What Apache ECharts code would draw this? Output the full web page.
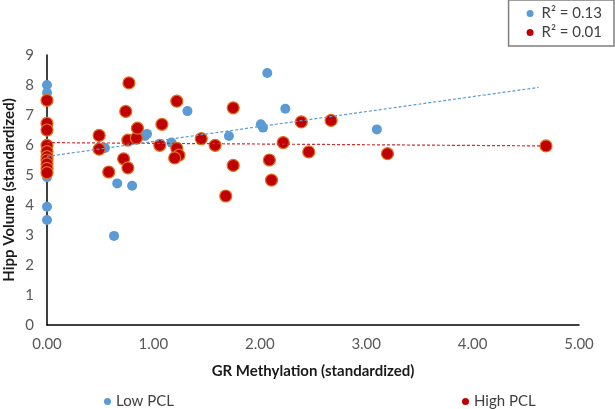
<!DOCTYPE html>
<html>
<head>
<meta charset="utf-8">
<script src="https://cdn.jsdelivr.net/npm/echarts@6/dist/echarts.min.js"></script>
<style>
  html, body { margin: 0; padding: 0; background: #fff; }
  #chart { width: 615px; height: 409px; }
</style>
</head>
<body>
<div id="chart"></div>
<script>
// GR methylation (x) vs hippocampal volume (y), both standardized
var lowPcl = [
    [0, 8.0], [0, 7.74], [0, 4.93], [0, 3.94], [0, 3.5],
    [0.545, 5.9], [0.66, 4.72], [0.8, 4.64], [0.63, 2.97],
    [0.92, 6.3], [0.94, 6.37], [1.17, 6.08], [1.32, 7.13],
    [1.71, 6.3], [2.07, 8.4], [2.01, 6.69], [2.03, 6.58],
    [2.24, 7.21], [3.1, 6.52]
];
var highPcl = [
    [0, 7.49], [0, 6.72], [0, 6.5], [0, 5.99], [0, 5.78], [0, 5.61],
    [0, 5.5], [0, 5.37], [0, 5.22], [0, 5.08],
    [0.49, 6.32], [0.49, 5.86], [0.58, 5.1], [0.77, 8.07], [0.74, 7.12],
    [0.72, 5.54], [0.76, 5.24], [0.76, 6.16], [0.84, 6.23], [0.85, 6.56],
    [1.08, 6.69], [1.06, 5.99], [1.22, 7.46], [1.22, 5.89], [1.24, 5.66],
    [1.2, 5.57], [1.45, 6.21], [1.58, 5.99], [1.75, 7.24], [1.75, 5.32],
    [1.68, 4.3], [2.09, 5.5], [2.11, 4.83], [2.22, 6.08], [2.39, 6.77],
    [2.46, 5.77], [2.67, 6.82], [3.2, 5.71], [4.69, 5.97]
];
// trend line end points
var lowTrend = [[0, 5.62], [4.62, 7.92]];
var highTrend = [[0, 6.08], [4.64, 5.97]];
var lowR2 = 'R² = 0.13';
var highR2 = 'R² = 0.01';

var blue = '#5b9bd5';
var red = '#c00000';
var font = 'Lato';

var myChart = echarts.init(document.getElementById('chart'));
var option = {
    animation: false,
    textStyle: { fontFamily: font },
    grid: { left: 47, right: 36, top: 55, bottom: 84, containLabel: false, outerBoundsMode: 'none' },
    legend: [{
        data: ['Low PCL'],
        left: 99, top: 389,
        icon: 'circle', itemWidth: 7, itemHeight: 7, itemGap: 5,
        textStyle: { fontFamily: font, fontSize: 15, color: '#404040' }
    }, {
        data: ['High PCL'],
        left: 457, top: 389,
        icon: 'circle', itemWidth: 7, itemHeight: 7, itemGap: 5,
        itemStyle: { borderWidth: 0 },
        textStyle: { fontFamily: font, fontSize: 15, color: '#404040' }
    }, {
        data: [lowR2, highR2],
        orient: 'vertical',
        right: 1, top: 0,
        padding: [6, 12, 6, 18],
        itemGap: 4,
        icon: 'circle', itemWidth: 7, itemHeight: 7,
        borderColor: '#7f7f7f', borderWidth: 1.5,
        textStyle: { fontFamily: font, fontSize: 15, color: '#404040', padding: [0, 0, 0, 3] }
    }],
    xAxis: {
        type: 'value',
        min: 0, max: 5, interval: 1,
        name: 'GR Methylation (standardized)',
        nameLocation: 'middle', nameGap: 39,
        nameTextStyle: { fontFamily: font, fontSize: 15, fontWeight: 'bold', color: '#1a1a1a' },
        axisLine: { show: true, lineStyle: { color: '#000', width: 1.5 } },
        axisTick: { show: false },
        splitLine: { show: false },
        axisLabel: {
            margin: 12, fontSize: 15, color: '#595959',
            formatter: function (v) { return v.toFixed(2); }
        }
    },
    yAxis: {
        type: 'value',
        min: 0, max: 9, interval: 1,
        name: 'Hipp Volume (standardized)',
        nameLocation: 'middle', nameGap: 30,
        nameMoveOverlap: false,
        nameTextStyle: { fontFamily: font, fontSize: 15, fontWeight: 'bold', color: '#1a1a1a' },
        axisLine: { show: true, lineStyle: { color: '#000', width: 1.5 } },
        axisTick: { show: false },
        splitLine: { show: false },
        axisLabel: { margin: 13, fontSize: 15, color: '#595959' }
    },
    series: [{
        name: 'Low PCL',
        type: 'scatter',
        symbolSize: 10,
        itemStyle: { color: blue, opacity: 1 },
        data: lowPcl,
        z: 2
    }, {
        name: 'High PCL',
        type: 'scatter',
        symbolSize: 12,
        itemStyle: { color: red, borderColor: '#e0701a', borderWidth: 1.2, opacity: 1 },
        data: highPcl,
        z: 3
    }, {
        name: lowR2,
        type: 'line',
        showSymbol: false,
        itemStyle: { color: blue },
        lineStyle: { color: blue, width: 1.2, type: [3, 2] },
        data: lowTrend,
        z: 4
    }, {
        name: highR2,
        type: 'line',
        showSymbol: false,
        itemStyle: { color: red },
        lineStyle: { color: '#d03030', width: 1.2, type: [3, 2] },
        data: highTrend,
        z: 4
    }]
};
myChart.setOption(option);
</script>
</body>
</html>
